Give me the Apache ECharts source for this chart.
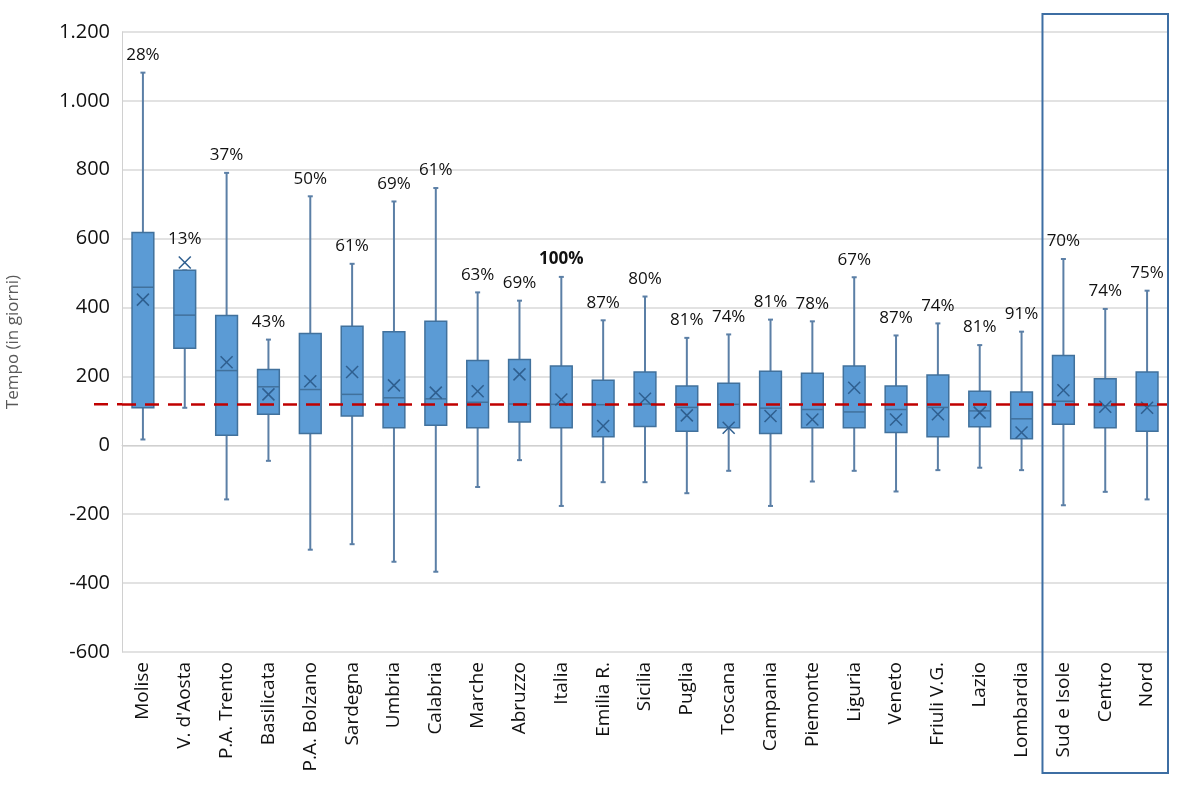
<!DOCTYPE html>
<html><head><meta charset="utf-8">
<script src="https://cdn.jsdelivr.net/npm/echarts@6/dist/echarts.min.js"></script>
<style>html,body{margin:0;padding:0;background:#fff}#c{width:1200px;height:796px}</style>
</head><body><div id="c"></div>
<script>
const categories = ["Molise","V. d'Aosta","P.A. Trento","Basilicata","P.A. Bolzano","Sardegna","Umbria","Calabria","Marche","Abruzzo","Italia","Emilia R.","Sicilia","Puglia","Toscana","Campania","Piemonte","Liguria","Veneto","Friuli V.G.","Lazio","Lombardia","Sud e Isole","Centro","Nord"];
const minV   = [17,109,-157,-45,-303,-287,-338,-367,-121,-43,-176,-107,-107,-139,-74,-176,-105,-74,-134,-72,-65,-72,-174,-135,-157];
const q1V    = [109,282,29,90,34,85,51,58,51,68,51,25,55,41,51,34,51,51,37,25,54,19,61,51,41];
const median = [459,378,217,170,162,148,138,135,125,120,119,118,120,110,119,108,104,97,104,110,100,77,128,115,115];
const q3V    = [618,508,377,220,325,346,330,360,246,249,230,189,213,172,180,215,209,230,172,204,157,155,261,193,213];
const maxV   = [1082,508,791,307,723,527,708,747,444,420,489,363,432,312,322,365,360,488,319,354,291,330,541,396,449];
const meanV  = [423,531,241,148,186,213,174,153,157,206,133,56,135,87,51,85,75,167,75,90,95,37,160,112,109];
const pctLabels = ["28%","13%","37%","43%","50%","61%","69%","61%","63%","69%","100%","87%","80%","81%","74%","81%","78%","67%","87%","74%","81%","91%","70%","74%","75%"];
const refValue = 119;
const yTicks = {min:-600, max:1200, interval:200};
const boldCategory = "Italia";

const FONT = "Open Sans";
const data = categories.map((c,i)=>[i,minV[i],q1V[i],median[i],q3V[i],maxV[i],meanV[i]]);

const chart = echarts.init(document.getElementById('c'));
function fmt(v){ return String(v).replace(/\B(?=(\d{3})+(?!\d))/g,'.'); }

chart.setOption({
  animation:false,
  grid:{left:122,right:32,top:32,bottom:144,containLabel:false,outerBoundsMode:'none'},
  xAxis:{type:'category',data:categories,
    axisLine:{show:true,lineStyle:{color:'#d0d0d0'}},axisTick:{show:false},
    axisLabel:{rotate:90,interval:0,fontFamily:FONT,fontSize:19,color:'#111',margin:10},
    splitLine:{show:false}},
  yAxis:{type:'value',min:yTicks.min,max:yTicks.max,interval:yTicks.interval,
    name:'Tempo (in giorni)',nameLocation:'middle',nameGap:100,
    nameTextStyle:{fontFamily:FONT,fontSize:17,color:'#595959'},
    axisLine:{show:true,lineStyle:{color:'#d0d0d0'}},axisTick:{show:false},
    axisLabel:{fontFamily:FONT,fontSize:20,color:'#111',margin:12,formatter:fmt},
    splitLine:{lineStyle:{color:'#d9d9d9',width:1.5}}},
  series:[{
    type:'custom',
    data:data,
    encode:{x:0,y:[1,2,3,4,5,6]},
    renderItem:function(params,api){
      const i=api.value(0);
      const bw=api.size([1,0])[0];
      const half=bw*0.26;
      const p=k=>api.coord([i,api.value(k)]);
      const pMin=p(1),pQ1=p(2),pMed=p(3),pQ3=p(4),pMax=p(5),pMean=p(6);
      const x=pMin[0];
      const wc='#5b7fa6';
      const ch=[];
      ch.push({type:'line',shape:{x1:x,y1:pMax[1],x2:x,y2:pQ3[1]},style:{stroke:wc,lineWidth:2}});
      ch.push({type:'line',shape:{x1:x,y1:pQ1[1],x2:x,y2:pMin[1]},style:{stroke:wc,lineWidth:2}});
      ch.push({type:'line',shape:{x1:x-2.5,y1:pMax[1],x2:x+2.5,y2:pMax[1]},style:{stroke:wc,lineWidth:2}});
      ch.push({type:'line',shape:{x1:x-2.5,y1:pMin[1],x2:x+2.5,y2:pMin[1]},style:{stroke:wc,lineWidth:2}});
      ch.push({type:'rect',shape:{x:x-half,y:pQ3[1],width:half*2,height:pQ1[1]-pQ3[1]},
        style:{fill:'#5b9bd5',stroke:'#41719c',lineWidth:1.5}});
      ch.push({type:'line',shape:{x1:x-half,y1:pMed[1],x2:x+half,y2:pMed[1]},style:{stroke:'#41719c',lineWidth:1.5}});
      const s=6;
      ch.push({type:'line',shape:{x1:pMean[0]-s,y1:pMean[1]-s,x2:pMean[0]+s,y2:pMean[1]+s},style:{stroke:'#2f5f8f',lineWidth:1.5}});
      ch.push({type:'line',shape:{x1:pMean[0]-s,y1:pMean[1]+s,x2:pMean[0]+s,y2:pMean[1]-s},style:{stroke:'#2f5f8f',lineWidth:1.5}});
      const topY=Math.min(pMax[1],pMean[1]-s);
      ch.push({type:'text',x:x,y:topY-9,style:{text:pctLabels[i],fill:'#111',
        font:(categories[i]===boldCategory?'bold ':'')+'17px "'+FONT+'"',align:'center',verticalAlign:'bottom'}});
      return {type:'group',children:ch};
    },
    markLine:{silent:true,symbol:'none',label:{show:false},
      lineStyle:{color:'#c00000',type:[14,9],width:2.5},
      data:[{yAxis:refValue}]},
    z:3
  }]
});

// frame around the macro-area group (last three categories) and left extension of reference line
const n=categories.length;
const a=chart.convertToPixel({xAxisIndex:0},categories[n-4]);
const b=chart.convertToPixel({xAxisIndex:0},categories[n-3]);
const c=chart.convertToPixel({xAxisIndex:0},categories[n-1]);
const step=b-a;
const left=(a+b)/2, right=c+step/2;
const topPx=chart.convertToPixel({yAxisIndex:0},yTicks.max)-18;
const refPx=chart.convertToPixel({yAxisIndex:0},refValue);
const x0=chart.convertToPixel({xAxisIndex:0},categories[0])-step/2;
chart.setOption({graphic:[
  {type:'rect',shape:{x:left,y:topPx,width:right-left,height:773-topPx},
   style:{fill:'none',stroke:'#3d6ea3',lineWidth:2},z:10},
  {type:'line',shape:{x1:x0-28,y1:refPx,x2:x0,y2:refPx},
   style:{stroke:'#c00000',lineWidth:2.5,lineDash:[14,9]},z:10}
]});
</script></body></html>
